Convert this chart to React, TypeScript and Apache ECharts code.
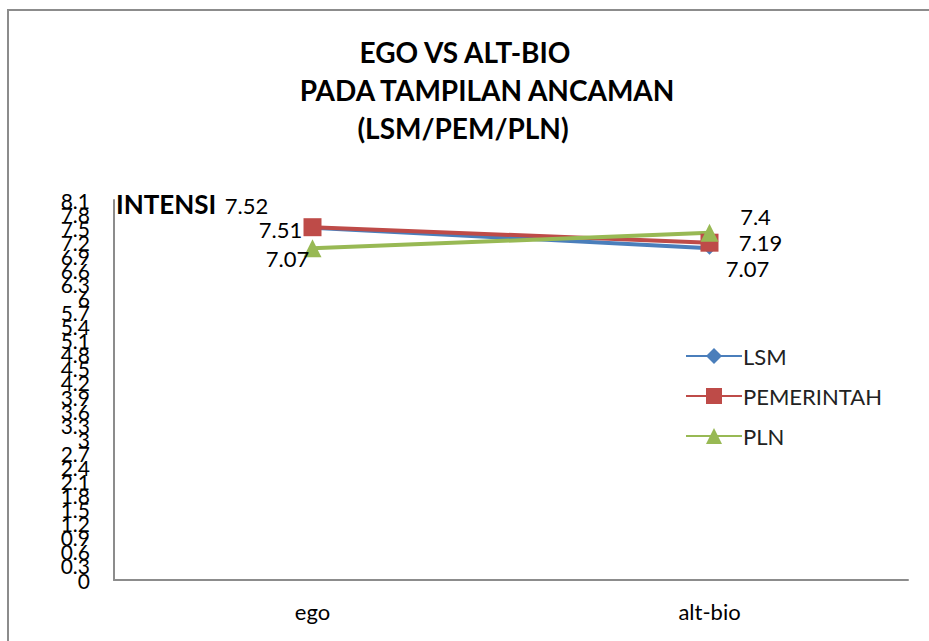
import React, { useEffect, useRef } from "react";
import * as echarts from "echarts";

const categories = ["ego", "alt-bio"];
const seriesNames = ["LSM", "PEMERINTAH", "PLN"];
const lsm = [7.51, 7.07];
const pemerintah = [7.52, 7.19];
const pln = [7.07, 7.4];
const titleLines = ["EGO VS ALT-BIO", "PADA TAMPILAN ANCAMAN", "(LSM/PEM/PLN)"];
const yAxisName = "INTENSI";
const yMin = 0;
const yMax = 8.1;
const yStep = 0.3;

const FONT = "Lato, 'Open Sans', sans-serif";

export default function App() {
  const ref = useRef<HTMLDivElement>(null);
  useEffect(() => {
    if (!ref.current) return;
    const chart = echarts.init(ref.current, undefined, { renderer: "svg" });
    const labelOffsets: number[][][] = [
      [[-32, 2], [38, 20]],
      [[-66, -22], [51, 0]],
      [[-25, 10], [46, -16]],
    ];
    const colors = ["#4A7EBB", "#BE4B48", "#98B954"];
    const symbols = ["diamond", "rect", "triangle"];
    const symbolSizes = [13, 18, 18];
    const values = [lsm, pemerintah, pln];
    const titleStyle = { fontFamily: FONT, fontWeight: "bold", fontSize: 28, fill: "#000", align: "center", verticalAlign: "middle" };
    const fmt = (v: number) => String(Math.round(v * 10) / 10);
    const yAxisFor = (parity: number, showLine: boolean) => ({
      type: "value",
      position: "left",
      min: yMin,
      max: yMax,
      interval: yStep,
      axisLine: { show: showLine, onZero: false, lineStyle: { color: "#8c8c8c", width: 2 } },
      axisTick: { show: false },
      splitLine: { show: false },
      axisLabel: {
        fontFamily: FONT,
        fontSize: 21,
        color: "#000",
        margin: 24,
        showMinLabel: true,
        showMaxLabel: true,
        formatter: (v: number) => (Math.round(v / yStep) % 2 === parity ? fmt(v) : ""),
      },
    });
    chart.setOption({
      animation: false,
      textStyle: { fontFamily: FONT },
      graphic: [
        {
          type: "rect",
          shape: { x: 8, y: 10, width: 940, height: 660 },
          style: { fill: "none", stroke: "#8c8c8c", lineWidth: 2 },
          silent: true,
        },
        { type: "text", x: 465, y: 52, style: { ...titleStyle, text: titleLines[0] } },
        { type: "text", x: 487, y: 90, style: { ...titleStyle, text: titleLines[1] } },
        { type: "text", x: 463, y: 128, style: { ...titleStyle, text: titleLines[2] } },
        {
          type: "text",
          x: 116,
          y: 204,
          style: { text: yAxisName, fontFamily: FONT, fontWeight: "bold", fontSize: 26, fill: "#000", align: "left", verticalAlign: "middle" },
        },
      ],
      legend: {
        orient: "vertical",
        left: 680,
        top: 340,
        itemWidth: 56,
        itemHeight: 20,
        itemGap: 18,
        textStyle: { fontFamily: FONT, fontSize: 22, color: "#222", padding: [0, 0, 0, -4] },
        data: seriesNames,
      },
      grid: { left: 114, right: 21, top: 200, bottom: 61 },
      xAxis: {
        type: "category",
        data: categories,
        boundaryGap: true,
        axisLine: { lineStyle: { color: "#8c8c8c", width: 2 } },
        axisTick: { show: false },
        axisLabel: { fontFamily: FONT, fontSize: 22, color: "#000", margin: 20 },
      },
      yAxis: [yAxisFor(0, true), yAxisFor(1, false)],
      series: seriesNames.map((name, s) => ({
        name,
        type: "line",
        yAxisIndex: 0,
        symbol: symbols[s],
        symbolSize: symbolSizes[s],
        color: colors[s],
        lineStyle: { width: 4, color: colors[s] },
        itemStyle: { color: colors[s] },
        data: values[s].map((v, i) => ({
          value: v,
          label: {
            show: true,
            position: "inside",
            offset: labelOffsets[s][i],
            fontFamily: FONT,
            fontSize: 22,
            color: "#000",
            formatter: () => String(v),
          },
        })),
      })),
    });
    return () => chart.dispose();
  }, []);
  return <div ref={ref} style={{ position: "fixed", left: 0, top: 0, width: 929, height: 641, background: "#fff" }} />;
}
